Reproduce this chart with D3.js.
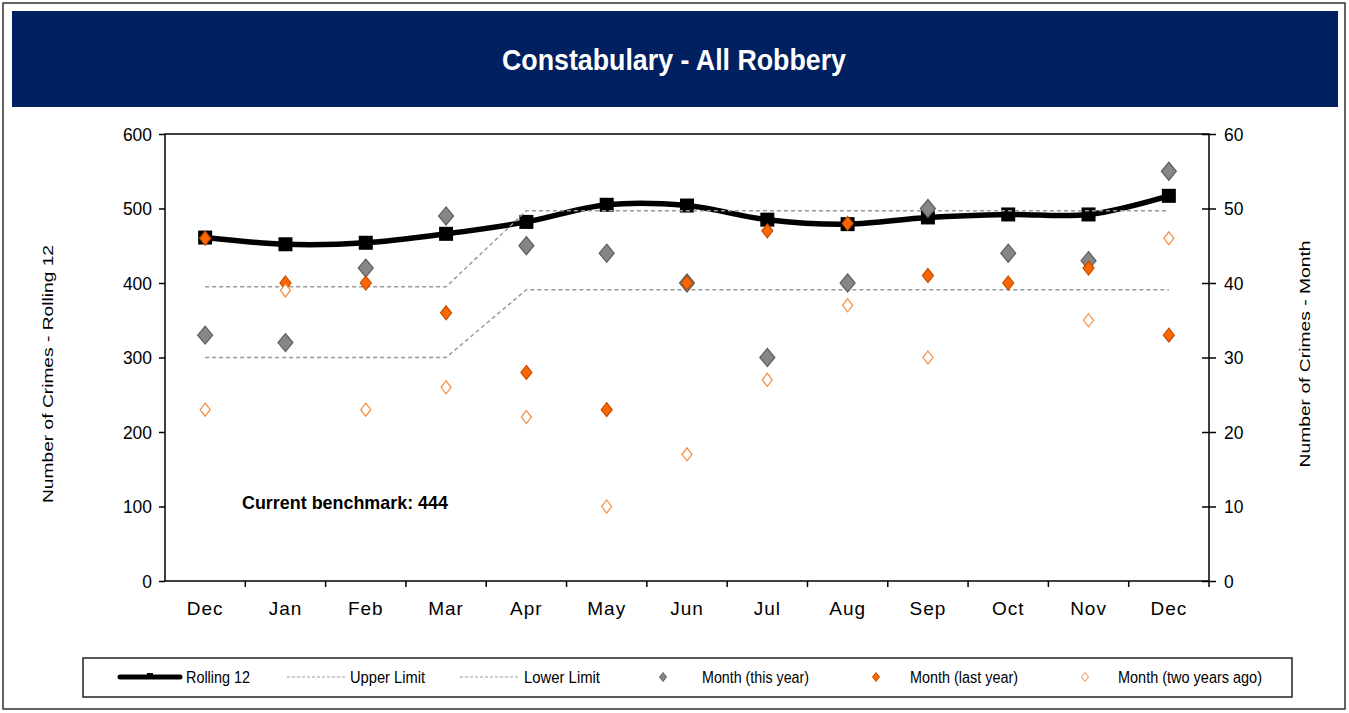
<!DOCTYPE html>
<html>
<head>
<meta charset="utf-8">
<script src="https://cdn.jsdelivr.net/npm/d3@7"></script>
<style>
  body { margin: 0; background: #fff; }
  svg { display: block; }
  text { font-family: "Liberation Sans Narrow", "Arial Narrow", "Liberation Sans", Arial, sans-serif; fill: #000; }
  .axis-title { font-family: "Liberation Sans", Arial, sans-serif; }
</style>
</head>
<body>
<div id="chart"></div>
<script>
// Data
const months = ['Dec', 'Jan', 'Feb', 'Mar', 'Apr', 'May', 'Jun', 'Jul', 'Aug', 'Sep', 'Oct', 'Nov', 'Dec'];
const rolling12 = [461, 452, 454, 466, 482, 505, 504, 485, 479, 488, 492, 492, 517];
const upperLimit = [395, 395, 395, 395, 497, 497, 497, 497, 497, 497, 497, 497, 497];
const lowerLimit = [300, 300, 300, 300, 391, 391, 391, 391, 391, 391, 391, 391, 391];
const monthThisYear = [33, 32, 42, 49, 45, 44, 40, 30, 40, 50, 44, 43, 55];
const monthLastYear = [46, 40, 40, 36, 28, 23, 40, 47, 48, 41, 40, 42, 33];
const monthTwoYearsAgo = [23, 39, 23, 26, 22, 10, 17, 27, 37, 30, null, 35, 46];
const leftTicks = [0, 100, 200, 300, 400, 500, 600];
const rightTicks = [0, 10, 20, 30, 40, 50, 60];
const benchmark = 444;

const width = 1349, height = 713;
const plot = { left: 165, right: 1209, top: 134, bottom: 581 };

const svg = d3.select('#chart').append('svg')
    .attr('width', width)
    .attr('height', height);

// outer frame + title band
svg.append('rect')
    .attr('x', 3).attr('y', 3).attr('width', 1342).attr('height', 706)
    .attr('fill', '#fff').attr('stroke', '#333').attr('stroke-width', 1.5);

svg.append('rect')
    .attr('x', 12).attr('y', 11).attr('width', 1326).attr('height', 96)
    .attr('fill', '#002060');

svg.append('text')
    .attr('x', 674).attr('y', 70)
    .attr('text-anchor', 'middle')
    .attr('font-size', 30).attr('font-weight', 'bold')
    .attr('textLength', 344).attr('lengthAdjust', 'spacingAndGlyphs')
    .style('fill', '#fff')
    .text('Constabulary - All Robbery');

// Scales
const idx = d3.range(months.length);
const x = d3.scaleBand().domain(idx).range([plot.left, plot.right]).padding(0);
const cx = i => x(i) + x.bandwidth() / 2;
const yLeft = d3.scaleLinear().domain([0, 600]).range([plot.bottom, plot.top]);
const yRight = d3.scaleLinear().domain([0, 60]).range([plot.bottom, plot.top]);

// plot frame
svg.append('rect')
    .attr('x', plot.left).attr('y', plot.top)
    .attr('width', plot.right - plot.left).attr('height', plot.bottom - plot.top)
    .attr('fill', 'none').attr('stroke', '#000').attr('stroke-width', 1.5);

// Axes
const leftAxis = svg.append('g')
    .attr('transform', `translate(${plot.left},0)`)
    .call(d3.axisLeft(yLeft).tickValues(leftTicks).tickSize(6).tickPadding(7));
leftAxis.select('.domain').remove();
leftAxis.selectAll('line').attr('stroke', '#000').attr('stroke-width', 1.5);
leftAxis.selectAll('text').attr('font-size', 19).attr('font-family', null)
    .attr('textLength', d => String(d).length * 9.7).attr('lengthAdjust', 'spacingAndGlyphs');

const rightAxis = svg.append('g')
    .attr('transform', `translate(${plot.right},0)`)
    .call(d3.axisRight(yRight).tickValues(rightTicks).tickSize(7).tickPadding(8));
rightAxis.select('.domain').remove();
rightAxis.selectAll('line').attr('x1', -7).attr('stroke', '#000').attr('stroke-width', 1.5);
rightAxis.selectAll('text').attr('font-size', 19).attr('font-family', null)
    .attr('textLength', d => String(d).length * 9.7).attr('lengthAdjust', 'spacingAndGlyphs');

const bottomAxis = svg.append('g')
    .attr('transform', `translate(0,${plot.bottom})`)
    .call(d3.axisBottom(x).tickFormat(i => months[i]).tickSize(0).tickPadding(21));
bottomAxis.select('.domain').remove();
bottomAxis.selectAll('text').attr('font-size', 19).attr('font-family', null)
    .attr('letter-spacing', 1);

// tick marks between categories
svg.append('g').selectAll('line')
    .data(d3.range(1, months.length + 1))
    .join('line')
    .attr('x1', i => x(i) === undefined ? plot.right : x(i))
    .attr('x2', i => x(i) === undefined ? plot.right : x(i))
    .attr('y1', plot.bottom).attr('y2', plot.bottom + 6)
    .attr('stroke', '#000').attr('stroke-width', 1.5);

// Axis titles
svg.append('text')
    .attr('class', 'axis-title')
    .attr('transform', `translate(53,374) rotate(-90)`)
    .attr('text-anchor', 'middle')
    .attr('font-size', 15)
    .attr('textLength', 258).attr('lengthAdjust', 'spacingAndGlyphs')
    .text('Number of Crimes - Rolling 12');

svg.append('text')
    .attr('class', 'axis-title')
    .attr('transform', `translate(1310,354) rotate(-90)`)
    .attr('text-anchor', 'middle')
    .attr('font-size', 15)
    .attr('textLength', 227).attr('lengthAdjust', 'spacingAndGlyphs')
    .text('Number of Crimes - Month');

// Rolling 12 line
const smooth = d3.line()
    .x((d, i) => cx(i))
    .y(d => yLeft(d))
    .curve(d3.curveCatmullRom.alpha(0.5));

svg.append('path')
    .datum(rolling12)
    .attr('d', smooth)
    .attr('fill', 'none').attr('stroke', '#000').attr('stroke-width', 5.5);

svg.append('g').selectAll('rect')
    .data(rolling12)
    .join('rect')
    .attr('x', (d, i) => cx(i) - 7).attr('y', d => yLeft(d) - 7)
    .attr('width', 14).attr('height', 14)
    .attr('fill', '#000');

// limit lines
const straight = d3.line().x((d, i) => cx(i)).y(d => yLeft(d));
[upperLimit, lowerLimit].forEach(series => {
    svg.append('path')
        .datum(series)
        .attr('d', straight)
        .attr('fill', 'none').attr('stroke', '#999').attr('stroke-width', 1.5)
        .attr('stroke-dasharray', '4,3');
});

// diamond markers
const diamond = (w, h) => `M0,${-h / 2}L${w / 2},0L0,${h / 2}L${-w / 2},0Z`;

function drawDiamonds(series, w, h, fill, stroke) {
    svg.append('g').selectAll('path')
        .data(series.map((v, i) => ({ v, i })).filter(d => d.v !== null))
        .join('path')
        .attr('transform', d => `translate(${cx(d.i)},${yRight(d.v)})`)
        .attr('d', diamond(w, h))
        .attr('fill', fill).attr('stroke', stroke).attr('stroke-width', 1.2);
}

drawDiamonds(monthThisYear, 15, 18, '#868686', '#5f5f5f');
drawDiamonds(monthLastYear, 11, 14, '#ff6600', '#c04d00');
drawDiamonds(monthTwoYearsAgo, 10, 13, '#fff', '#f58a3c');

// benchmark annotation
svg.append('text')
    .attr('x', 242).attr('y', 509)
    .attr('font-size', 19).attr('font-weight', 'bold')
    .attr('textLength', 206).attr('lengthAdjust', 'spacingAndGlyphs')
    .text(`Current benchmark: ${benchmark}`);

// Legend
const legend = svg.append('g');
legend.append('rect')
    .attr('x', 83).attr('y', 658).attr('width', 1209).attr('height', 39)
    .attr('fill', '#fff').attr('stroke', '#222').attr('stroke-width', 1.5);

const ly = 677;
const legendItems = [
    { label: 'Rolling 12', type: 'rolling', sx: 120, ex: 180, tx: 186, tw: 64 },
    { label: 'Upper Limit', type: 'dash', sx: 287, ex: 345, tx: 350, tw: 75 },
    { label: 'Lower Limit', type: 'dash', sx: 460, ex: 519, tx: 524, tw: 76 },
    { label: 'Month (this year)', type: 'grey', sx: 663, tx: 702, tw: 107 },
    { label: 'Month (last year)', type: 'orange', sx: 876, tx: 910, tw: 108 },
    { label: 'Month (two years ago)', type: 'hollow', sx: 1085, tx: 1118, tw: 144 }
];

legendItems.forEach(d => {
    if (d.type === 'rolling') {
        legend.append('line')
            .attr('x1', d.sx).attr('x2', d.ex).attr('y1', ly).attr('y2', ly)
            .attr('stroke', '#000').attr('stroke-width', 5).attr('stroke-linecap', 'round');
        legend.append('rect')
            .attr('x', (d.sx + d.ex) / 2 - 3).attr('y', ly - 4).attr('width', 6).attr('height', 6)
            .attr('fill', '#000');
    } else if (d.type === 'dash') {
        legend.append('line')
            .attr('x1', d.sx).attr('x2', d.ex).attr('y1', ly).attr('y2', ly)
            .attr('stroke', '#999').attr('stroke-width', 1.2).attr('stroke-dasharray', '3,2');
    } else {
        const style = {
            grey: ['#868686', '#5f5f5f'],
            orange: ['#ff6600', '#c04d00'],
            hollow: ['#fff', '#f58a3c']
        }[d.type];
        legend.append('path')
            .attr('transform', `translate(${d.sx},${ly})`)
            .attr('d', diamond(7, 9))
            .attr('fill', style[0]).attr('stroke', style[1]).attr('stroke-width', 1);
    }
    legend.append('text')
        .attr('x', d.tx).attr('y', ly + 6)
        .attr('font-size', 16)
        .attr('textLength', d.tw).attr('lengthAdjust', 'spacingAndGlyphs')
        .text(d.label);
});
</script>
</body>
</html>
